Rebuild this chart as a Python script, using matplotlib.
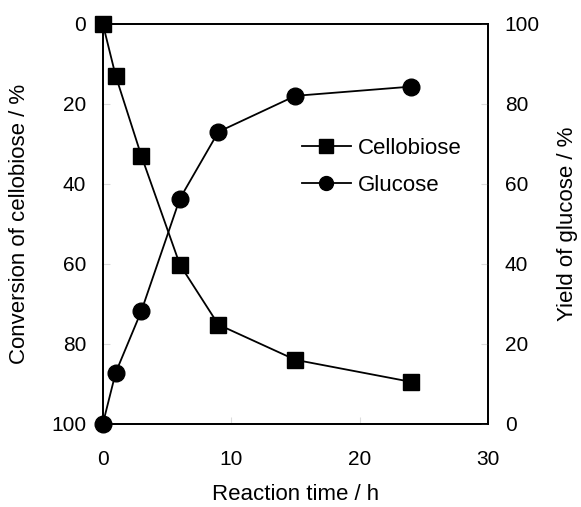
import matplotlib
matplotlib.use('Agg')
import matplotlib.pyplot as plt
from matplotlib.lines import Line2D

plt.rcParams['font.family'] = ['Liberation Sans', 'DejaVu Sans']

time_h = [0, 1, 3, 6, 9, 15, 24]
cellobiose_conv = [0, 13, 33, 60.2, 75.2, 84, 89.5]
glucose_yield = [0, 12.8, 28.2, 56.3, 73, 82, 84.3]

fig = plt.figure(figsize=(5.81, 5.07), dpi=100)
ax = fig.add_axes([0.177, 0.164, 0.663, 0.789])
ax2 = ax.twinx()

ax.plot(time_h, cellobiose_conv, color='k', lw=1.3, marker='s', ms=12, zorder=3)
ax2.plot(time_h, glucose_yield, color='k', lw=1.3, marker='o', ms=12, zorder=3)

ax.set_xlim(0, 30)
ax.set_ylim(100, 0)
ax2.set_ylim(0, 100)
ax.set_xticks([0, 10, 20, 30])
ax.set_yticks([0, 20, 40, 60, 80, 100])
ax2.set_yticks([0, 20, 40, 60, 80, 100])

for a in (ax, ax2):
    for s in a.spines.values():
        s.set_linewidth(1.3)
    a.tick_params(direction='in', length=5, width=0.8, color='#dddddd', labelsize=15)
ax.tick_params(axis='y', pad=12)
ax.tick_params(axis='x', pad=19)
ax2.tick_params(axis='y', pad=12)

ax.set_xlabel('Reaction time / h', fontsize=16)
ax.set_ylabel('Conversion of cellobiose / %', fontsize=16)
ax2.set_ylabel('Yield of glucose / %', fontsize=16)
ax.xaxis.set_label_coords(0.5, -0.15)
ax.yaxis.set_label_coords(-0.19, 0.5)
ax2.yaxis.set_label_coords(1.179, 0.5)

for ln in ax.lines + ax2.lines:
    ln.set_clip_on(False)

handles = [Line2D([], [], color='k', lw=1.3, marker='s', ms=10),
           Line2D([], [], color='k', lw=1.3, marker='o', ms=10)]
ax2.legend(handles, ['Cellobiose', 'Glucose'], loc='upper left',
           bbox_to_anchor=(0.465, 0.765), frameon=False, fontsize=16,
           handlelength=2.2, handletextpad=0.3, labelspacing=0.72)

fig.savefig('out.png', dpi=100)
